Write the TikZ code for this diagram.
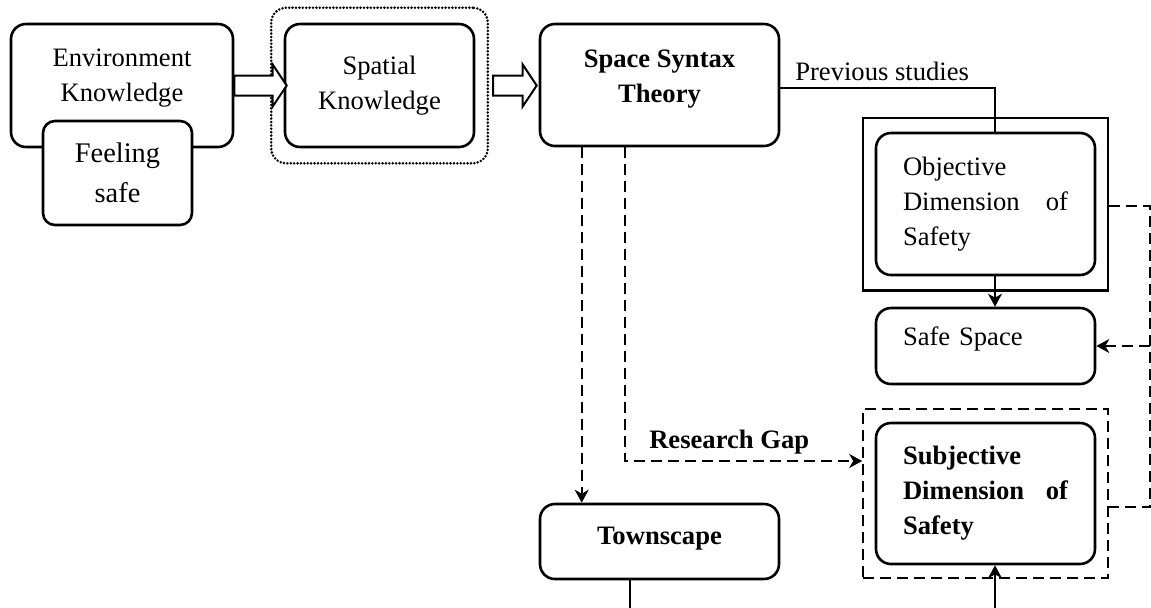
\documentclass[tikz,border=0pt]{standalone}
\usepackage{fontspec}
\setmainfont{Liberation Serif}
\usetikzlibrary{arrows.meta,positioning,calc,fit}

\newcommand{\liftup}[2]{\raisebox{#1}[\height][\depth]{\begin{tabular}{@{}c@{}}#2\end{tabular}}}
\newcommand{\blockarrow}[2]{%
  \draw[blockarr] let \p1=(#1), \p2=(#2) in
    (\x1,\y1+5pt) -- (\x2-7pt,\y1+5pt) -- (\x2-7pt,\y1+10.5pt) -- (\x2,\y1)
    -- (\x2-7pt,\y1-10.5pt) -- (\x2-7pt,\y1-5pt) -- (\x1,\y1-5pt) -- cycle;}

\begin{document}
\begin{tikzpicture}[x=0.5pt,y=-0.5pt,
    every node/.style={font=\fontsize{13.3}{17.5}\selectfont},
    bold/.style={font=\fontsize{13.3}{17.5}\selectfont\bfseries},
    box/.style={draw,line width=1.3pt,rounded corners=7.5pt,align=center,inner sep=0pt},
    txtbox/.style={box,text width=82.5pt,align=left,minimum width=109.5pt},
    frame/.style={draw,line width=1.2pt,inner xsep=5.75pt,inner ysep=7pt},
    dotbox/.style={draw,line width=1.4pt,line cap=round,dash pattern=on 0pt off 1.7pt,
                   rounded corners=7.5pt,inner xsep=6.25pt,inner ysep=7.5pt},
    conn/.style={line width=1pt},
    dashline/.style={line width=1pt,dash pattern=on 5.5pt off 3pt},
    arr/.style={-{Stealth[length=6.5pt,width=7pt,inset=2pt]}},
    blockarr/.style={draw,line width=1pt,fill=white}]

  \useasboundingbox (0,0) rectangle (1151,607);

  %% Knowledge
  \node[box,minimum width=111pt,minimum height=61.5pt] (env) at (122,85.5)
       {\liftup{4.5pt}{Environment\\Knowledge}};
  \node[box,fill=white,rounded corners=6pt,minimum width=74.5pt,minimum height=52pt,
        font=\fontsize{14.2}{20}\selectfont] (feel) at (117.5,173) {Feeling\\safe};
  \node[box,minimum width=94.5pt,minimum height=61.5pt] (spatial) at (379.5,85.5)
       {Spatial\\Knowledge};
  \node[dotbox,fit=(spatial)] (spatialgrp) {};

  %% Theory
  \node[box,bold,minimum width=119.5pt,minimum height=61pt] (syntax) at (659.5,85)
       {\liftup{3.5pt}{Space Syntax\\Theory}};
  \node[box,bold,minimum width=119.5pt,minimum height=37.5pt] (townscape) at (659.5,541.5)
       {\liftup{2pt}{Townscape}};

  %% Safety
  \node[txtbox,minimum height=71pt] (objective) at (985.5,204)
       {Objective\\Dimension\hfill of\\Safety};
  \node[frame,fit=(objective)] (objframe) {};
  \node[txtbox,minimum height=38pt] (safe) at (985.5,346) {\liftup{4pt}{Safe Space}};
  \node[txtbox,bold,minimum height=70.5pt] (subjective) at (985.5,493.5)
       {Subjective\\Dimension\hfill of\\Safety};
  \node[frame,dashline,inner ysep=6.5pt,fit=(subjective)] (subjframe) {};

  %% Arrows
  \blockarrow{env.east}{[xshift=1.5pt]spatial.west}
  \blockarrow{[xshift=2pt]spatialgrp.east}{[xshift=-1pt]syntax.west}

  \draw[conn] ([yshift=-1.5pt]syntax.east) -|
      node[pos=0,anchor=base west,inner sep=0pt,xshift=7pt,yshift=4pt] (prev) {Previous studies}
      ([xshift=4.75pt]objective.north);
  \draw[conn,arr] ([xshift=4.75pt]objective.south) -- ([xshift=4.75pt]safe.north);

  \draw[dashline] ([yshift=-0.75pt]objframe.east) -- ++(20.5pt,0) coordinate (rbus)
      |- ([yshift=-6.75pt]subjframe.east);
  \draw[dashline,arr] (rbus |- safe.east) -- (safe.east);

  \draw[dashline,arr] ([xshift=21.5pt]syntax.south west) -- ([xshift=21.5pt]townscape.north west);
  \draw[dashline,arr] ([xshift=43pt]syntax.south west) |-
      node[pos=0.72,anchor=base,yshift=6.5pt,bold] (gap) {Research Gap}
      ([yshift=16.25pt]subjframe.west);

  \coordinate (townout) at ([xshift=-14.75pt,yshift=-14pt]townscape.south);
  \draw[conn] ([xshift=-14.75pt]townscape.south) -- (townout);
  \coordinate (subjin) at ([xshift=4.75pt,yshift=-21.5pt]subjective.south);
  \draw[conn,arr] (subjin) -- ([xshift=4.75pt]subjective.south);
\end{tikzpicture}
\end{document}
